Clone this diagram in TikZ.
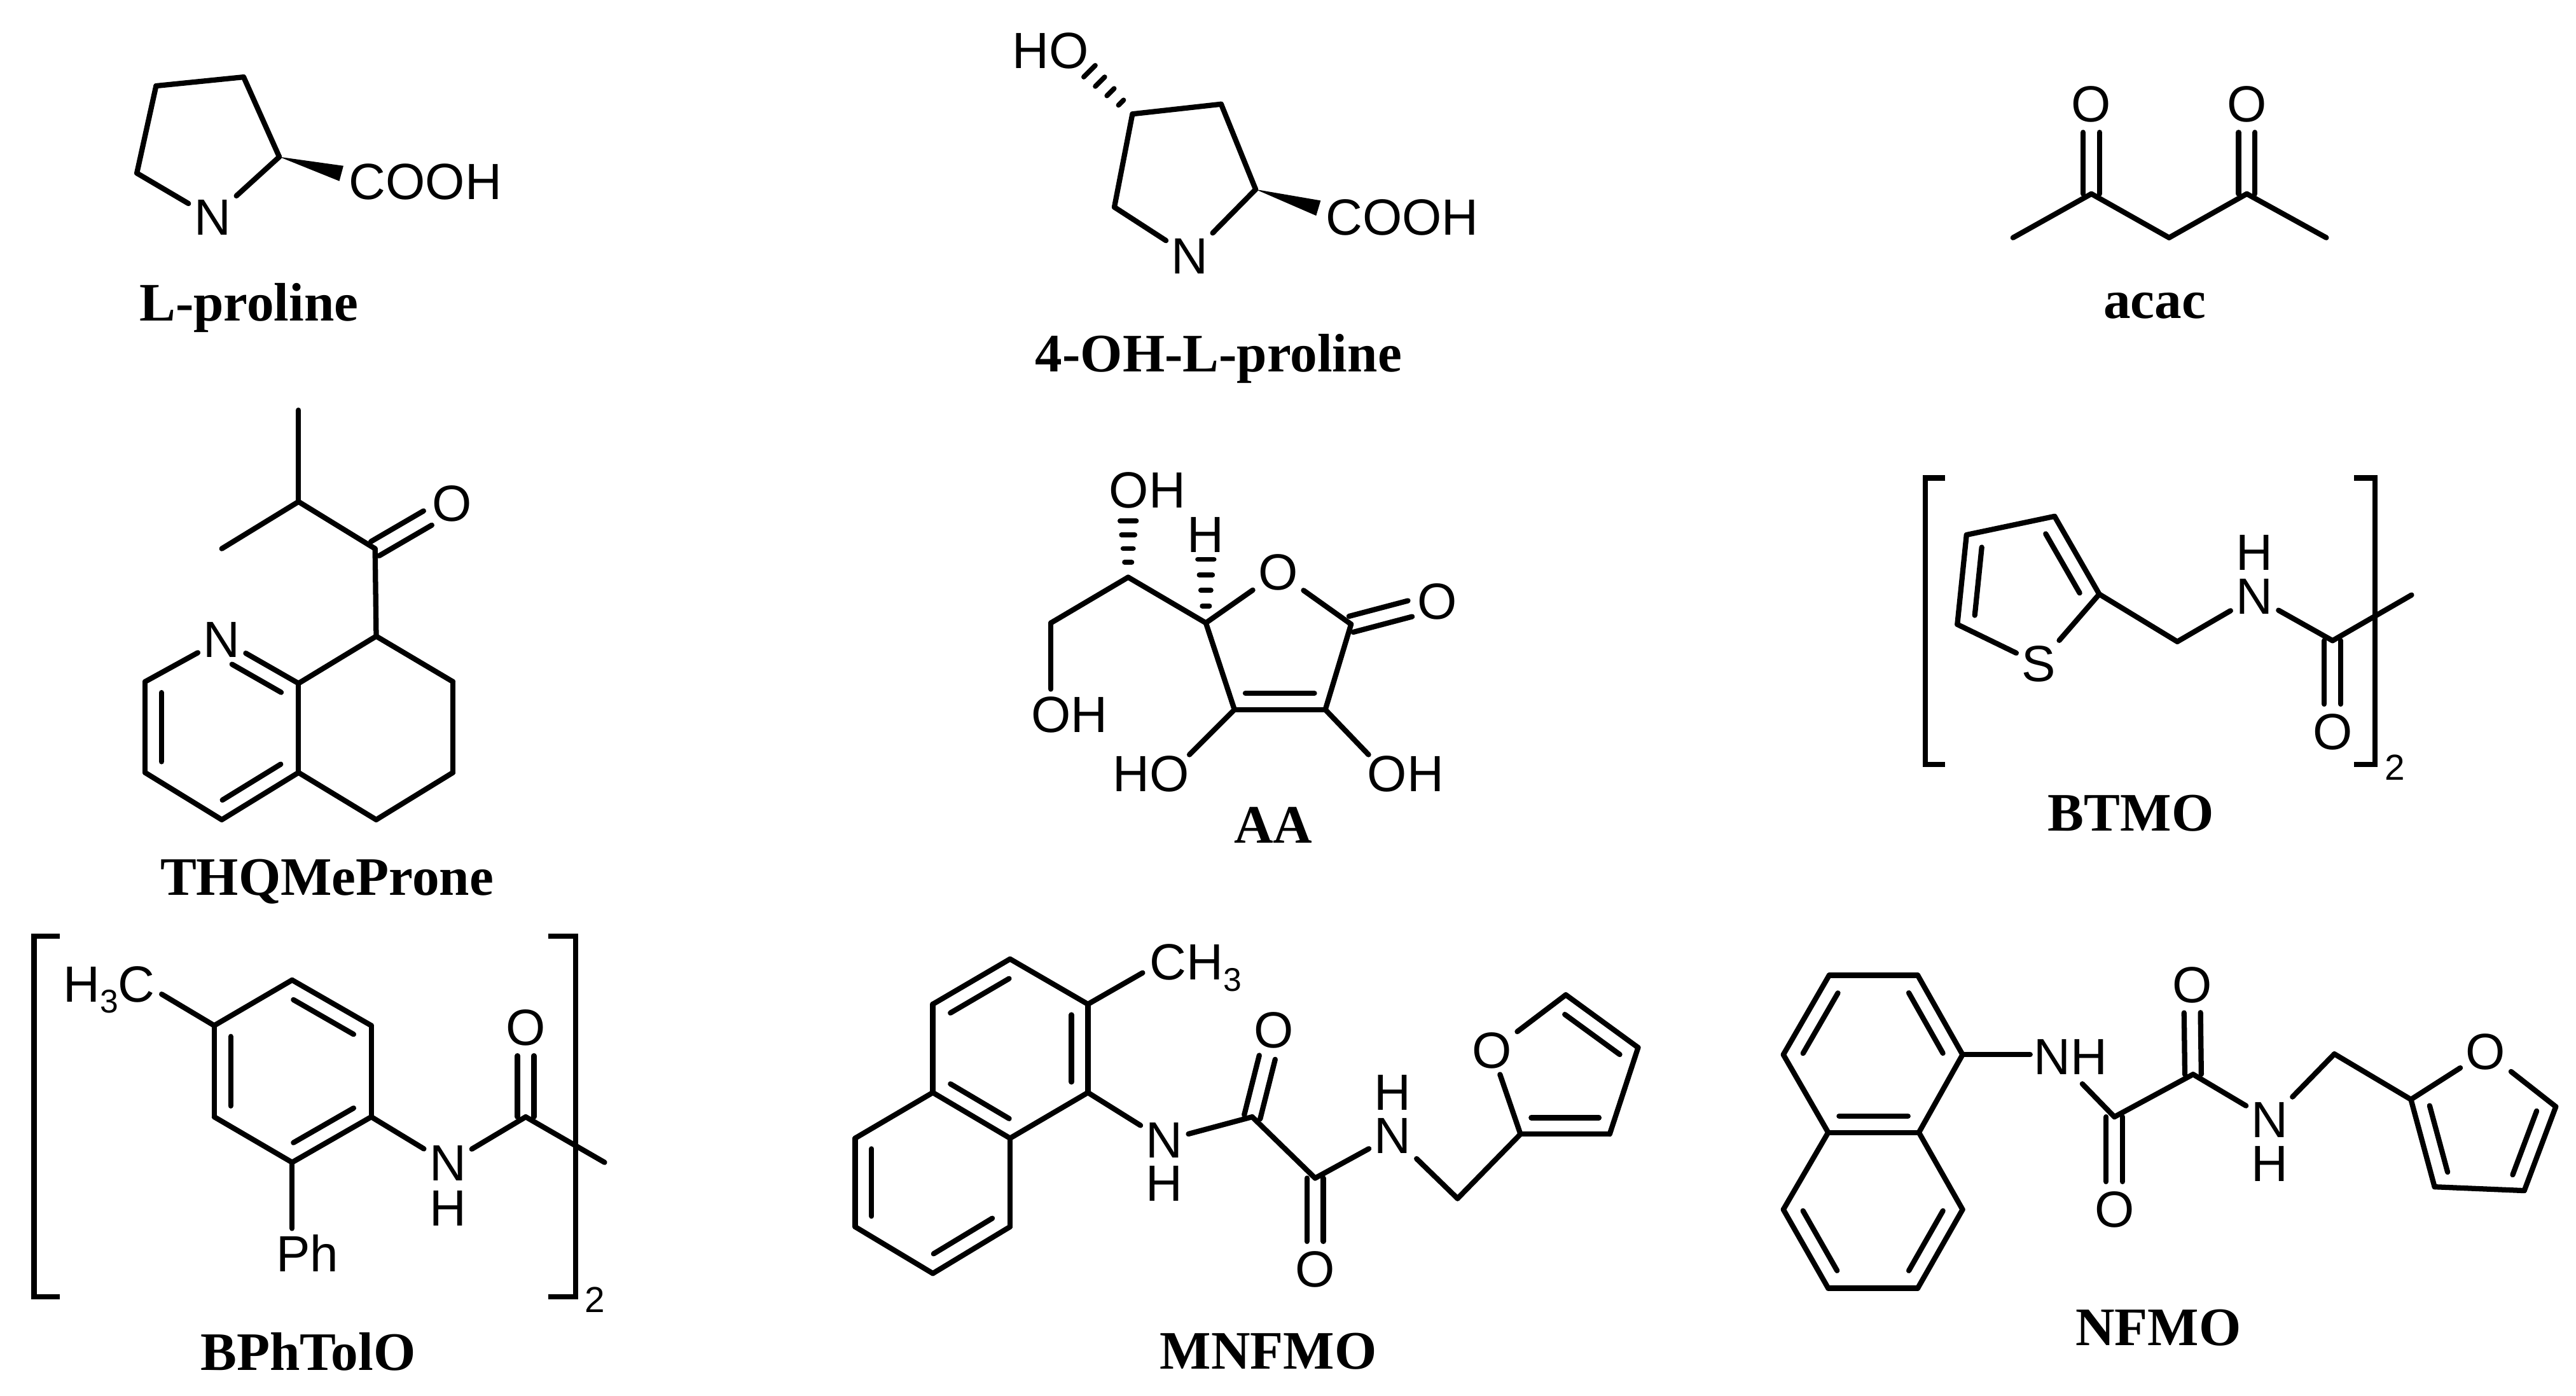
\documentclass[tikz,border=0pt]{standalone}
\usepackage{fontspec}
\usepackage{tikz}
\usetikzlibrary{calc}
\newfontfamily\chemfont{Liberation Sans}
\newfontfamily\namefont{Liberation Serif}
\tikzset{
	bond/.style={draw, line width=1.6pt, line cap=round, line join=round},
	hash/.style={draw, line width=1.5pt, line cap=round},
	bracket/.style={draw, line width=1.6pt, line join=miter},
	atom/.style={font=\chemfont\fontsize{15.5}{16}\selectfont, inner sep=1.5pt},
	label/.style={font=\chemfont\fontsize{15.5}{16}\selectfont, inner sep=0pt, anchor=base west},
	count/.style={font=\chemfont\fontsize{11}{11}\selectfont, inner sep=0pt},
	title/.style={font=\namefont\bfseries\fontsize{16.5}{17}\selectfont, inner sep=0pt, anchor=base}
}
\newcommand{\dblbond}[2]{
	\draw[bond, shorten >=8.5pt] ($(#1)!2.5pt!90:(#2)$) -- ($(#2)!2.5pt!-90:(#1)$);
	\draw[bond, shorten >=8.5pt] ($(#1)!2.5pt!-90:(#2)$) -- ($(#2)!2.5pt!90:(#1)$);
}
\newcommand{\inbond}[3][.88]{
	\draw[bond] ($(#2)!.12!(#3)!5pt!90:(#3)$) -- ($(#2)!#1!(#3)!5pt!90:(#3)$);
}
\newcommand{\wedgebond}[2]{
	\fill (#1) -- ($(#2)!2.4pt!90:(#1)$) -- ($(#2)!2.4pt!-90:(#1)$) -- cycle;
}
\newcommand{\hashbond}[2]{
	\foreach \t in {.25,.48,.71,.94}{
		\draw[hash] ($(#1)!\t!(#2)!{.6pt+2pt*\t}!90:(#2)$) -- ($(#1)!\t!(#2)!{.6pt+2pt*\t}!-90:(#2)$);
	}
}
\newcommand{\subthree}{\raisebox{-3.3pt}{\fontsize{10}{10}\selectfont 3}}
\begin{document}
\begin{tikzpicture}[x=.5pt, y=-.5pt]
\useasboundingbox (0,0) rectangle (1568,849.8);

\path (95,52.3) coordinate (lpa) (148.3,46.9) coordinate (lpb) (170,95.5) coordinate (lpc) (83.3,105.4) coordinate (lpd)
	(207.8,105.6) coordinate (lpw);
\node[atom] (lpn) at (129.3,132.5) {N};
\node[atom] (lpacid) at (259,110.7) {COOH};
\node[title] (lpname) at (151.5,195.5) {L-proline};
\path[bond]
(lpa) edge (lpb)
(lpb) edge (lpc)
(lpc) edge (lpn)
(lpn) edge (lpd)
(lpd) edge (lpa)
;
\wedgebond{lpc}{lpw}

\path (689.3,69.4) coordinate (hpa) (743.3,63.4) coordinate (hpb) (764.3,115.3) coordinate (hpc) (678.3,126.1) coordinate (hpd)
	(802.5,126.7) coordinate (hpw) (661.5,41.7) coordinate (hph);
\node[atom] (hpn) at (724.3,155.9) {N};
\node[atom] (hpacid) at (853.5,132.3) {COOH};
\node[atom] (hpoh) at (639.4,31) {HO};
\node[title] (hpname) at (741.7,226.2) {4-OH-L-proline};
\path[bond]
(hpa) edge (hpb)
(hpb) edge (hpc)
(hpc) edge (hpn)
(hpn) edge (hpd)
(hpd) edge (hpa)
;
\wedgebond{hpc}{hpw}
\hashbond{hpa}{hph}

\path (1225.3,144.7) coordinate (aca) (1273,118) coordinate (acb) (1320.3,144.7) coordinate (acc) (1367.6,118) coordinate (acd)
	(1416,144.7) coordinate (ace);
\node[atom] (aco) at (1273,63.6) {O};
\node[atom] (acp) at (1367.6,63.6) {O};
\node[title] (acname) at (1311.6,193.7) {acac};
\path[bond]
(aca) edge (acb)
(acb) edge (acc)
(acc) edge (acd)
(acd) edge (ace)
;
\dblbond{acb}{aco}
\dblbond{acd}{acp}

\path (181.7,249.7) coordinate (tha) (181.7,305.4) coordinate (thb) (135,334) coordinate (thc) (228.3,334) coordinate (thd)
	(229,387.3) coordinate (the) (181.7,416) coordinate (thf) (275.7,415) coordinate (thg) (275.7,470.3) coordinate (thh)
	(229,499) coordinate (thi) (181.7,470.3) coordinate (thj) (135,499) coordinate (thk) (88.3,470.3) coordinate (thl)
	(88.3,415) coordinate (thm);
\node[atom] (tho) at (275,306.8) {O};
\node[atom] (thn) at (135,389.3) {N};
\node[title] (thname) at (199,545) {THQMeProne};
\path[bond]
(tha) edge (thb)
(thb) edge (thc)
(thb) edge (thd)
(thd) edge (the)
(the) edge (thf)
(the) edge (thg)
(thg) edge (thh)
(thh) edge (thi)
(thi) edge (thj)
(thj) edge (thf)
(thj) edge (thk)
(thk) edge (thl)
(thl) edge (thm)
(thm) edge (thn)
(thn) edge (thf)
;
\dblbond{thd}{tho}
\inbond{thm}{thl}
\inbond{thk}{thj}
\inbond[.76]{thf}{thn}

\path (686.7,351.4) coordinate (aaa) (639.7,379.2) coordinate (aab) (734,379.2) coordinate (aac) (822.4,380) coordinate (aad)
	(806.7,432) coordinate (aae) (751.4,432) coordinate (aaf) (686.7,315) coordinate (aag) (734,338) coordinate (aah)
	(639.7,419.5) coordinate (aai) (724,459.4) coordinate (aaj) (833,459.4) coordinate (aak);
\node[atom] (aaoh) at (698.4,298.6) {OH};
\node[atom] (aaohb) at (651,435) {OH};
\node[atom] (aaohc) at (700.7,471) {HO};
\node[atom] (aaohd) at (855.6,471) {OH};
\node[atom] (aahh) at (734,325.6) {H};
\node[atom] (aao) at (778,348.4) {O};
\node[atom] (aap) at (874.7,366.2) {O};
\node[title] (aaname) at (775,513) {AA};
\path[bond]
(aaa) edge (aab)
(aaa) edge (aac)
(aab) edge (aai)
(aac) edge (aao)
(aao) edge (aad)
(aad) edge (aae)
(aae) edge (aaf)
(aaf) edge (aac)
(aaf) edge (aaj)
(aae) edge (aak)
;
\dblbond{aad}{aap}
\inbond{aaf}{aae}
\hashbond{aaa}{aag}
\hashbond{aac}{aah}

\path (1197,325.6) coordinate (bta) (1250.6,314.3) coordinate (btb) (1277.8,361.7) coordinate (btc) (1191.4,380.1) coordinate (btd)
	(1325.3,390.6) coordinate (bte) (1419.8,390) coordinate (btf) (1467.9,362.2) coordinate (btg);
\node[atom] (bts) at (1241,404.2) {S};
\node[atom] (btn) at (1372.3,363.3) {N};
\node[atom] (bth) at (1372.3,336.5) {H};
\node[atom] (bto) at (1419.8,445.6) {O};
\node[count] (btcount) at (1457.6,467) {2};
\node[title] (btname) at (1297,506) {BTMO};
\path[bond]
(bta) edge (btb)
(btb) edge (btc)
(btc) edge (bts)
(bts) edge (btd)
(btd) edge (bta)
(btc) edge (bte)
(bte) edge (btn)
(btn) edge (btf)
(btf) edge (btg)
;
\dblbond{btf}{bto}
\inbond{bta}{btd}
\inbond{btc}{btb}
\draw[bracket] (1184,291) -- (1171.9,291) -- (1171.9,465.5) -- (1184,465.5);
\draw[bracket] (1433,291) -- (1445.6,291) -- (1445.6,465.5) -- (1433,465.5);

\path (130.4,624.3) coordinate (bpa) (177.8,596.6) coordinate (bpb) (226,624.3) coordinate (bpc) (226,679.9) coordinate (bpd)
	(177.8,707.6) coordinate (bpe) (130.4,679.9) coordinate (bpf) (98.4,605.2) coordinate (bpg) (177.8,747.8) coordinate (bpi)
	(320,679.9) coordinate (bpj) (368,707.6) coordinate (bpk);
\node[label] (bpme) at (38,610) {H\subthree C};
\node[atom] (bpph) at (187,763) {Ph};
\node[atom] (bpn) at (272.6,708.2) {N};
\node[atom] (bph) at (272.6,735.4) {H};
\node[atom] (bpo) at (320,625.7) {O};
\node[count] (bpcount) at (362,791.2) {2};
\node[title] (bpname) at (187.5,834.3) {BPhTolO};
\path[bond]
(bpa) edge (bpb)
(bpb) edge (bpc)
(bpc) edge (bpd)
(bpd) edge (bpe)
(bpe) edge (bpf)
(bpf) edge (bpa)
(bpa) edge (bpg)
(bpe) edge (bpi)
(bpd) edge (bpn)
(bpn) edge (bpj)
(bpj) edge (bpk)
;
\dblbond{bpj}{bpo}
\inbond{bpa}{bpf}
\inbond{bpe}{bpd}
\inbond{bpc}{bpb}
\draw[bracket] (36.4,569.8) -- (20.7,569.8) -- (20.7,789.3) -- (36.4,789.3);
\draw[bracket] (333.9,569.8) -- (350.5,569.8) -- (350.5,789.3) -- (333.9,789.3);

\path (614.8,583.8) coordinate (mna) (662.2,611.3) coordinate (mnb) (662.2,665.1) coordinate (mnc) (614.8,692.9) coordinate (mnd)
	(567.8,665.1) coordinate (mne) (567.8,611.3) coordinate (mnf) (614.8,746.8) coordinate (mng) (567.8,775.2) coordinate (mni)
	(520.5,746.8) coordinate (mnj) (520.5,692.9) coordinate (mnk) (695.5,592.2) coordinate (mnl) (762.2,679.9) coordinate (mnm)
	(800.5,717.2) coordinate (mnp) (887.2,729.6) coordinate (mnq) (925.5,690.4) coordinate (mnr) (979.8,690.4) coordinate (mns)
	(997.1,637.7) coordinate (mnt) (953.1,605.6) coordinate (mnu);
\node[label] (mnme) at (699.5,596.6) {CH\subthree};
\node[atom] (mnn) at (708.8,694.2) {N};
\node[atom] (mnh) at (708.8,720.6) {H};
\node[atom] (mno) at (775.5,627.2) {O};
\node[atom] (mnoo) at (800.5,772.7) {O};
\node[atom] (mnnn) at (847.8,691.3) {N};
\node[atom] (mnhh) at (847.8,665.1) {H};
\node[atom] (mnooo) at (908.1,639.7) {O};
\node[title] (mnname) at (772,833.4) {MNFMO};
\path[bond]
(mna) edge (mnb)
(mnb) edge (mnc)
(mnc) edge (mnd)
(mnd) edge (mne)
(mne) edge (mnf)
(mnf) edge (mna)
(mnd) edge (mng)
(mng) edge (mni)
(mni) edge (mnj)
(mnj) edge (mnk)
(mnk) edge (mne)
(mnb) edge (mnl)
(mnc) edge (mnn)
(mnn) edge (mnm)
(mnm) edge (mnp)
(mnp) edge (mnnn)
(mnnn) edge (mnq)
(mnq) edge (mnr)
(mnr) edge (mns)
(mns) edge (mnt)
(mnt) edge (mnu)
(mnu) edge (mnooo)
(mnooo) edge (mnr)
;
\dblbond{mnm}{mno}
\dblbond{mnp}{mnoo}
\inbond{mna}{mnf}
\inbond{mne}{mnd}
\inbond{mnc}{mnb}
\inbond{mnk}{mnj}
\inbond{mni}{mng}
\inbond{mnr}{mns}
\inbond{mnt}{mnu}

\path (1113.4,593.7) coordinate (nfa) (1167.3,593.7) coordinate (nfb) (1194.6,642) coordinate (nfc) (1168,689.4) coordinate (nfd)
	(1112.8,689.4) coordinate (nfe) (1085.5,642) coordinate (nff) (1194.6,736.3) coordinate (nfg) (1167.3,784.2) coordinate (nfi)
	(1112.8,784.2) coordinate (nfj) (1085.5,736.3) coordinate (nfk) (1235.7,642) coordinate (nfl) (1267.5,659.8) coordinate (nfm)
	(1287,679.9) coordinate (nfp) (1334.9,654) coordinate (nfq) (1420.9,641.6) coordinate (nfr) (1467.5,669.3) coordinate (nfs)
	(1481.9,722.5) coordinate (nft) (1536.5,724.8) coordinate (nfu) (1555.7,673.7) coordinate (nfv);
\node[atom] (nfnh) at (1260.5,643.3) {NH};
\node[atom] (nfo) at (1287,736.3) {O};
\node[atom] (nfoo) at (1334.2,599.5) {O};
\node[atom] (nfn) at (1381.7,681.8) {N};
\node[atom] (nfh) at (1381.7,708.6) {H};
\node[atom] (nfooo) at (1513,640.2) {O};
\node[title] (nfname) at (1313.7,819.2) {NFMO};
\path[bond]
(nfa) edge (nfb)
(nfb) edge (nfc)
(nfc) edge (nfd)
(nfd) edge (nfe)
(nfe) edge (nff)
(nff) edge (nfa)
(nfd) edge (nfg)
(nfg) edge (nfi)
(nfi) edge (nfj)
(nfj) edge (nfk)
(nfk) edge (nfe)
(nfc) edge (nfl)
(nfm) edge (nfp)
(nfp) edge (nfq)
(nfq) edge (nfn)
(nfn) edge (nfr)
(nfr) edge (nfs)
(nfs) edge (nft)
(nft) edge (nfu)
(nfu) edge (nfv)
(nfv) edge (nfooo)
(nfooo) edge (nfs)
;
\dblbond{nfp}{nfo}
\dblbond{nfq}{nfoo}
\inbond{nfa}{nff}
\inbond{nfe}{nfd}
\inbond{nfc}{nfb}
\inbond{nfk}{nfj}
\inbond{nfi}{nfg}
\inbond{nfs}{nft}
\inbond{nfu}{nfv}
\end{tikzpicture}
\end{document}
